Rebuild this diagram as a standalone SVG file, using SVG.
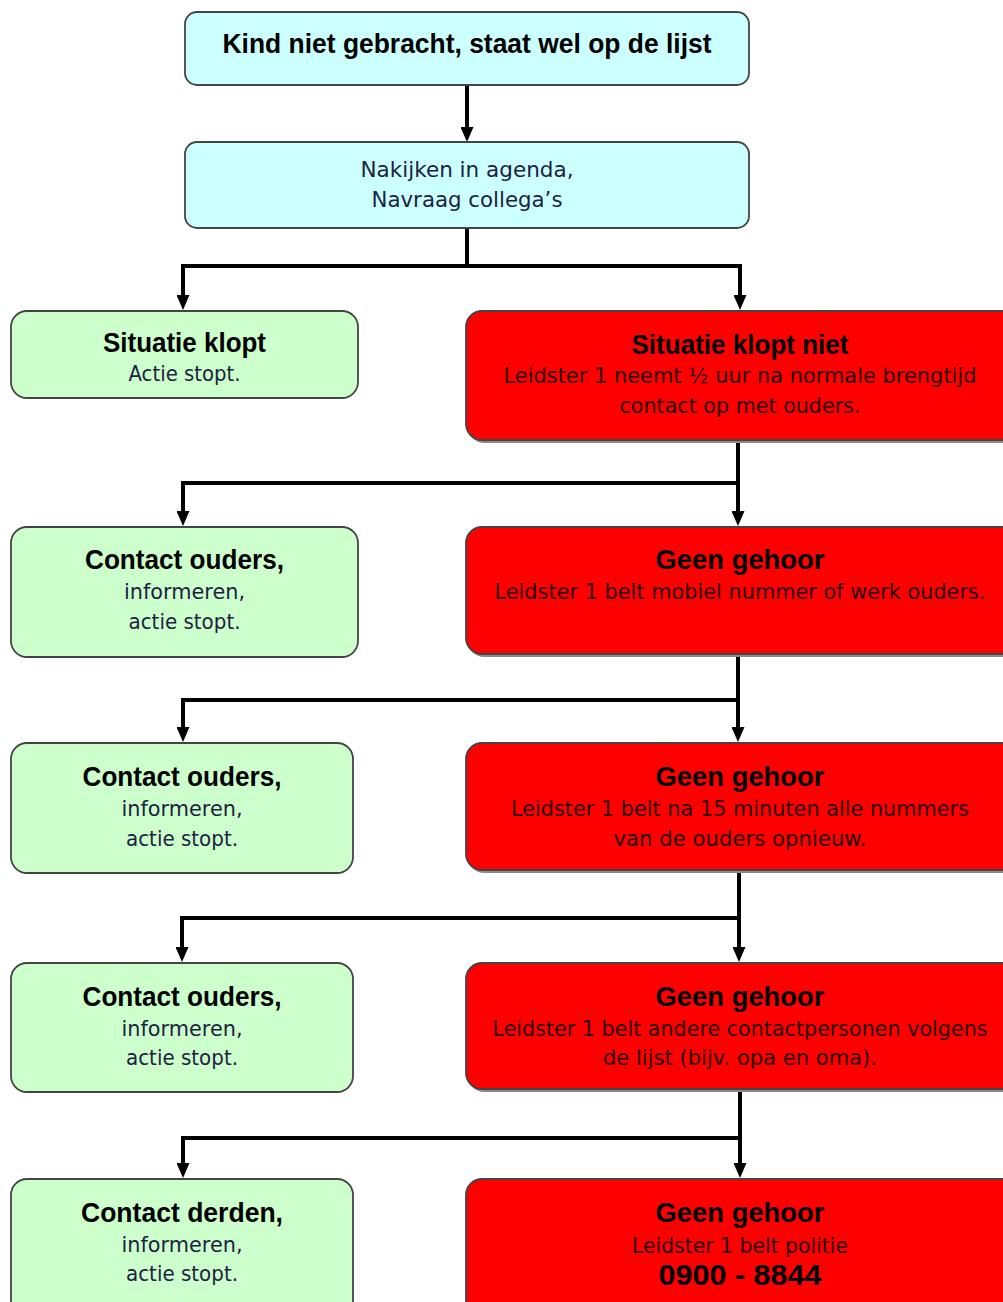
<svg xmlns="http://www.w3.org/2000/svg" width="1003" height="1302" viewBox="0 0 1003 1302">
<style>
.box{stroke:#444;stroke-width:1.8}
.cyan{fill:#ccffff}
.green{fill:#ccffcc}
.red{fill:#ff0000}
.shadow{fill:#8a8a8a}
.t{font-family:"Liberation Sans",Arial,sans-serif;font-weight:bold;font-size:27px;fill:#000;text-anchor:middle}
.b{font-family:"DejaVu Sans",Verdana,sans-serif;font-size:20.5px;fill:#1c2340;text-anchor:middle}
.rb{fill:#2b0000}
.conn{fill:none;stroke:#000;stroke-width:4;marker-end:url(#arr)}
.seg{fill:none;stroke:#000;stroke-width:4}
</style>
<defs>
<marker id="arr" markerUnits="userSpaceOnUse" markerWidth="15" markerHeight="13" viewBox="0 0 15 13" refX="7" refY="6.5" orient="auto">
<path d="M0,0 L15,6.5 L0,13 Z" fill="#000"/>
</marker>
</defs>
<rect width="1003" height="1302" fill="#fff"/>

<g id="connectors">
<path class="conn" d="M467,85 V134"/>
<path class="seg" d="M467,228 V266"/>
<path class="conn" d="M467,266 H183 V302"/>
<path class="conn" d="M467,266 H740 V302"/>
<path class="conn" d="M738,440 V518"/>
<path class="conn" d="M738,483 H183 V518"/>
<path class="conn" d="M738,657 V734"/>
<path class="conn" d="M738,700 H183 V734"/>
<path class="conn" d="M739,873 V954"/>
<path class="conn" d="M739,918 H182 V954"/>
<path class="conn" d="M740,1092 V1170"/>
<path class="conn" d="M740,1138 H183 V1170"/>
</g>

<g id="n1">
<rect class="box cyan" x="185" y="12" width="564" height="73" rx="12"/>
<text class="t" x="467" y="53" textLength="489" lengthAdjust="spacingAndGlyphs">Kind niet gebracht, staat wel op de lijst</text>
</g>
<g id="n2">
<rect class="box cyan" x="185" y="142" width="564" height="86" rx="12"/>
<text class="b" x="467" y="177" textLength="213" lengthAdjust="spacingAndGlyphs">Nakijken in agenda,</text>
<text class="b" x="467" y="207" textLength="191" lengthAdjust="spacingAndGlyphs">Navraag collega’s</text>
</g>

<g id="g1">
<rect class="box green" x="11" y="311" width="347" height="87" rx="16"/>
<text class="t" x="184.5" y="352" textLength="163" lengthAdjust="spacingAndGlyphs">Situatie klopt</text>
<text class="b" x="184.5" y="381" textLength="112" lengthAdjust="spacingAndGlyphs">Actie stopt.</text>
</g>
<g id="r1">
<rect class="shadow" x="468" y="314" width="560" height="129" rx="16"/>
<rect class="box red" x="466" y="311" width="560" height="129" rx="16"/>
<text class="t" x="740" y="354" textLength="217" lengthAdjust="spacingAndGlyphs">Situatie klopt niet</text>
<text class="b rb" x="740" y="383" textLength="473" lengthAdjust="spacingAndGlyphs">Leidster 1 neemt ½ uur na normale brengtijd</text>
<text class="b rb" x="740" y="413" textLength="241" lengthAdjust="spacingAndGlyphs">contact op met ouders.</text>
</g>

<g id="g2">
<rect class="box green" x="11" y="527" width="347" height="130" rx="16"/>
<text class="t" x="184.5" y="569" textLength="199" lengthAdjust="spacingAndGlyphs">Contact ouders,</text>
<text class="b" x="184.5" y="599" textLength="121" lengthAdjust="spacingAndGlyphs">informeren,</text>
<text class="b" x="184.5" y="629" textLength="112" lengthAdjust="spacingAndGlyphs">actie stopt.</text>
</g>
<g id="r2">
<rect class="shadow" x="468" y="530" width="560" height="127" rx="16"/>
<rect class="box red" x="466" y="527" width="560" height="127" rx="16"/>
<text class="t" x="740" y="569" textLength="169" lengthAdjust="spacingAndGlyphs">Geen gehoor</text>
<text class="b rb" x="740" y="599" textLength="491" lengthAdjust="spacingAndGlyphs">Leidster 1 belt mobiel nummer of werk ouders.</text>
</g>

<g id="g3">
<rect class="box green" x="11" y="743" width="342" height="130" rx="16"/>
<text class="t" x="182" y="786" textLength="199" lengthAdjust="spacingAndGlyphs">Contact ouders,</text>
<text class="b" x="182" y="816" textLength="121" lengthAdjust="spacingAndGlyphs">informeren,</text>
<text class="b" x="182" y="846" textLength="112" lengthAdjust="spacingAndGlyphs">actie stopt.</text>
</g>
<g id="r3">
<rect class="shadow" x="468" y="746" width="560" height="127" rx="16"/>
<rect class="box red" x="466" y="743" width="560" height="127" rx="16"/>
<text class="t" x="740" y="786" textLength="169" lengthAdjust="spacingAndGlyphs">Geen gehoor</text>
<text class="b rb" x="740" y="816" textLength="458" lengthAdjust="spacingAndGlyphs">Leidster 1 belt na 15 minuten alle nummers</text>
<text class="b rb" x="740" y="846" textLength="253" lengthAdjust="spacingAndGlyphs">van de ouders opnieuw.</text>
</g>

<g id="g4">
<rect class="box green" x="11" y="963" width="342" height="129" rx="16"/>
<text class="t" x="182" y="1006" textLength="199" lengthAdjust="spacingAndGlyphs">Contact ouders,</text>
<text class="b" x="182" y="1036" textLength="121" lengthAdjust="spacingAndGlyphs">informeren,</text>
<text class="b" x="182" y="1065" textLength="112" lengthAdjust="spacingAndGlyphs">actie stopt.</text>
</g>
<g id="r4">
<rect class="shadow" x="468" y="966" width="560" height="126" rx="16"/>
<rect class="box red" x="466" y="963" width="560" height="126" rx="16"/>
<text class="t" x="740" y="1006" textLength="169" lengthAdjust="spacingAndGlyphs">Geen gehoor</text>
<text class="b rb" x="740" y="1036" textLength="495" lengthAdjust="spacingAndGlyphs">Leidster 1 belt andere contactpersonen volgens</text>
<text class="b rb" x="740" y="1065" textLength="274" lengthAdjust="spacingAndGlyphs">de lijst (bijv. opa en oma).</text>
</g>

<g id="g5">
<rect class="box green" x="11" y="1179" width="342" height="140" rx="16"/>
<text class="t" x="182" y="1222" textLength="202" lengthAdjust="spacingAndGlyphs">Contact derden,</text>
<text class="b" x="182" y="1252" textLength="121" lengthAdjust="spacingAndGlyphs">informeren,</text>
<text class="b" x="182" y="1281" textLength="112" lengthAdjust="spacingAndGlyphs">actie stopt.</text>
</g>
<g id="r5">
<rect class="box red" x="466" y="1179" width="560" height="140" rx="16"/>
<text class="t" x="740" y="1222" textLength="169" lengthAdjust="spacingAndGlyphs">Geen gehoor</text>
<text class="b rb" x="740" y="1253" textLength="216" lengthAdjust="spacingAndGlyphs">Leidster 1 belt politie</text>
<text class="t" x="740" y="1285" style="font-size:29px" textLength="163" lengthAdjust="spacingAndGlyphs">0900 - 8844</text>
</g>
</svg>
